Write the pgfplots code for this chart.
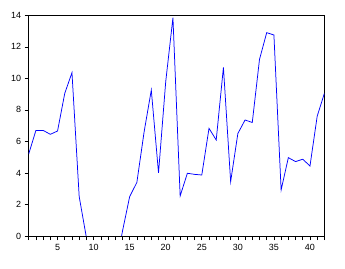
\documentclass[border=0pt]{standalone}
\usepackage{fontspec}
\setmainfont{Liberation Sans}
\usepackage{pgfplots}
\pgfplotsset{compat=1.18}
\begin{document}
\begin{tikzpicture}
\begin{axis}[
  scale only axis,
  width=295.7bp, height=220.7bp,
  xmin=1, xmax=42, ymin=0, ymax=14,
  xtick={5,10,15,20,25,30,35,40},
  minor xtick={1,2,...,42},
  ytick={0,2,4,6,8,10,12,14},
  tick align=outside,
  xtick pos=bottom, ytick pos=left,
  major tick length=4bp, minor tick length=4bp,
  tick style={black, line width=0.6pt},
  axis line style={line width=0.7pt},
  tick label style={font=\fontsize{9}{10}\selectfont},
  /pgf/number format/assume math mode=true,
  xticklabel style={yshift=-1bp},
]
\addplot[blue, line width=0.75pt] coordinates {
(1,5.2) (2,6.7) (3,6.7) (4,6.45) (5,6.66) (6,9.05) (7,10.36) (8,2.5) (9,-0.1)
(10,-1.5) (11,-3) (12,-2.5) (13,-2.2) (14,0.3) (15,2.5) (16,3.4) (17,6.6)
(18,9.26) (19,4.0) (20,9.8) (21,13.85) (22,2.54) (23,3.98) (24,3.91) (25,3.87)
(26,6.83) (27,6.09) (28,10.7) (29,3.45) (30,6.5) (31,7.36) (32,7.2) (33,11.2)
(34,12.9) (35,12.75) (36,2.92) (37,4.97) (38,4.72) (39,4.87) (40,4.44)
(41,7.6) (42,9.05)
};
\end{axis}
\path[use as bounding box] ([xshift=-28.7bp,yshift=-33bp]current axis.south west) rectangle ([xshift=20.6bp,yshift=15.3bp]current axis.north east);
\end{tikzpicture}
\end{document}
